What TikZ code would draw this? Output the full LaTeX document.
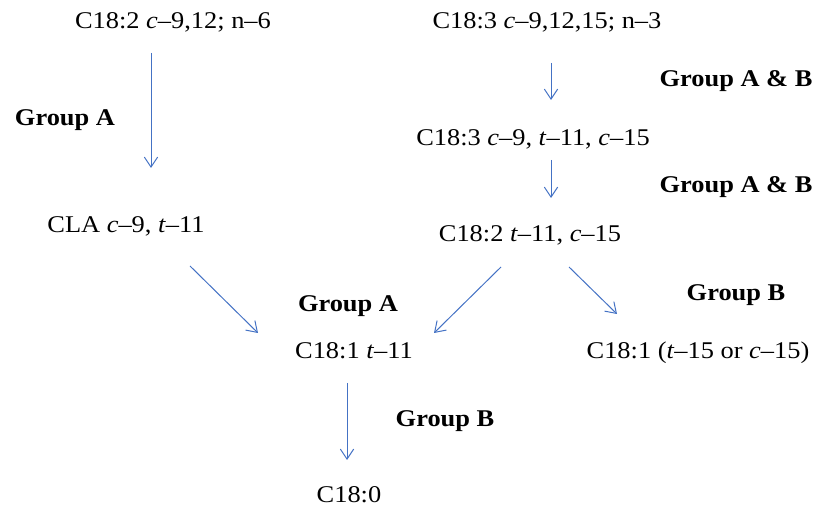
\documentclass[tikz,border=0pt]{standalone}
\usepackage{fontspec}
\setmainfont{Liberation Serif}[FakeStretch=1.1]
\usetikzlibrary{arrows.meta,calc}
\begin{document}
\begin{tikzpicture}[x=0.75pt,y=0.75pt,
  acidNode/.style={anchor=base,inner sep=0pt,outer sep=0pt,font=\fontsize{18}{21}\selectfont},
  groupNode/.style={acidNode,font=\fontsize{18}{21}\selectfont\bfseries},
  convArrow/.style={draw=drawColor,line width=0.75pt,-{Straight Barb[length=7.5pt,width=10pt,line width=0.75pt]}}]
\definecolor{drawColor}{RGB}{68,114,196}
\path[use as bounding box] (0,0) rectangle (825,510);

% fatty acids
\node[acidNode] (lin) at (173,481) {C18:2 \textit{c}–9,12; n–6};
\node[acidNode] (aln) at (547,481) {C18:3 \textit{c}–9,12,15; n–3};
\node[acidNode] (cla) at (126,277) {CLA \textit{c}–9, \textit{t}–11};
\node[acidNode] (ctc) at (533,364) {C18:3 \textit{c}–9, \textit{t}–11, \textit{c}–15};
\node[acidNode] (tc) at (530,268) {C18:2 \textit{t}–11, \textit{c}–15};
\node[acidNode] (va) at (354,151) {C18:1 \textit{t}–11};
\node[acidNode] (tfif) at (698,151) {C18:1 (\textit{t}–15 or \textit{c}–15)};
\node[acidNode] (sa) at (349,7) {C18:0};

% groups
\node[groupNode] (grpA1) at (65,384) {Group A};
\node[groupNode] (grpAB1) at (736,423) {Group A \& B};
\node[groupNode] (grpAB2) at (736,317) {Group A \& B};
\node[groupNode] (grpA2) at (348,198) {Group A};
\node[groupNode] (grpB1) at (736,209) {Group B};
\node[groupNode] (grpB2) at (445,83) {Group B};

% conversions
\draw[convArrow] ($(lin.base)+(-22,-24)$) -- ($(cla.base)+(25,65)$);
\draw[convArrow] ($(aln.base)+(4,-34)$) -- ($(ctc.base)+(18,46)$);
\draw[convArrow] ($(ctc.base)+(18,-14)$) -- ($(tc.base)+(21,44)$);
\draw[convArrow] ($(cla.base)+(64,-33)$) -- ($(va.base)+(-96,26)$);
\draw[convArrow] ($(tc.base)+(-29,-25)$) -- ($(va.base)+(80,26)$);
\draw[convArrow] ($(tc.base)+(39,-25)$) -- ($(tfif.base)+(-81,45)$);
\draw[convArrow] ($(va.base)+(-7,-24)$) -- ($(sa.base)+(-2,43)$);
\end{tikzpicture}
\end{document}
